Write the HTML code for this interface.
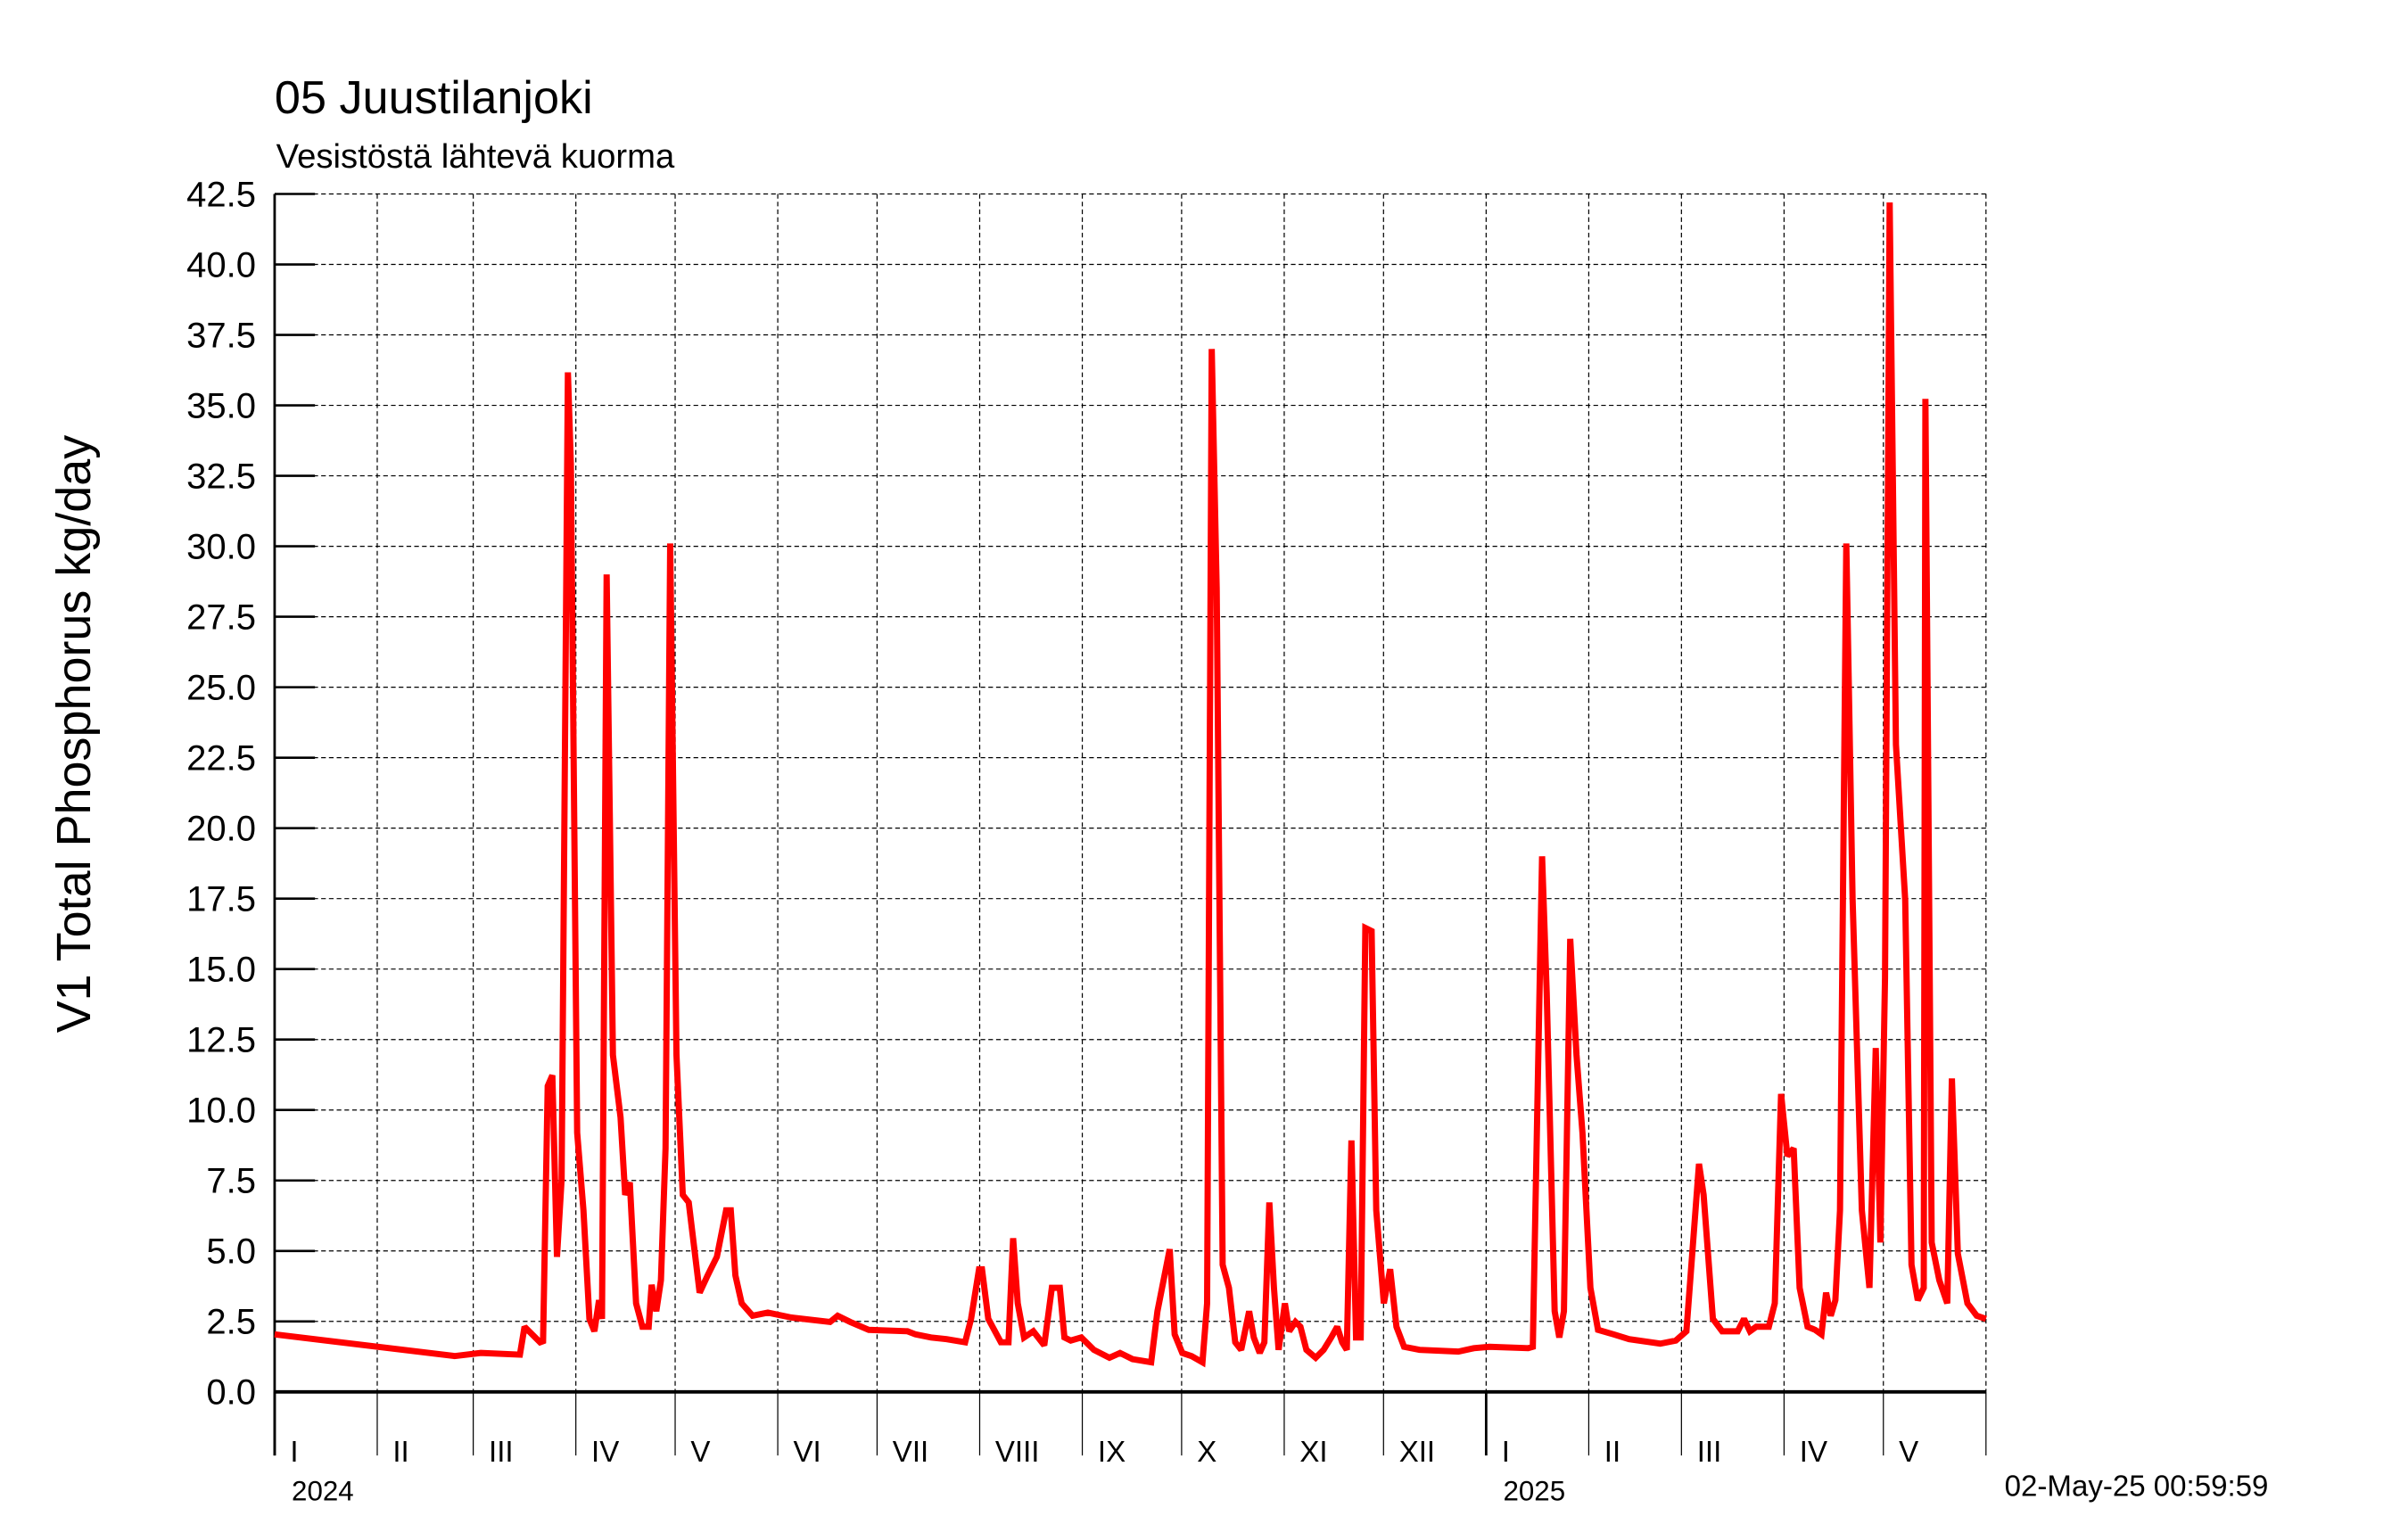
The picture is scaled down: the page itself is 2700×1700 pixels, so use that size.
<!DOCTYPE html>
<html><head><meta charset="utf-8"><style>
html,body{margin:0;padding:0;background:#fff;}
svg{display:block;font-family:"Liberation Sans",sans-serif;}
</style></head><body>
<svg id="chart" width="2700" height="1700" viewBox="0 0 1552 977" preserveAspectRatio="none" xmlns="http://www.w3.org/2000/svg">
<rect width="1552" height="977" fill="#fff"/>
<text x="177" y="73" font-size="30">05 Juustilanjoki</text>
<text x="178" y="108" font-size="22">Vesistöstä lähtevä kuorma</text>
<text transform="translate(58,473) rotate(-90)" text-anchor="middle" font-size="31">V1 Total Phosphorus kg/day</text>
<g id="grid"></g><g id="axes"></g><g id="series"></g>
<text x="1292" y="964" font-size="19">02-May-25 00:59:59</text>
</svg>
<script>
const days=[0,54.4,62.3,74.1,75.5,80.2,81.1,82.5,83.9,85.3,86.7,88.6,89.5,91.4,93.3,95.1,96.6,98,98.9,100.3,102.2,104.5,105.9,107.3,109.2,111.1,113,113.9,115.3,116.7,118.1,119.5,121.4,123.3,125.1,128.4,130.8,133.6,136.4,137.8,139.2,141.1,144.4,149,156,167.8,170.1,173.9,179.5,191.2,193.6,198.3,203,208.6,210.4,212.8,213.7,215.6,219.4,221.7,223.1,224.5,226.4,229.2,232.5,234.8,237.2,238.6,240.5,243.7,247.5,252.2,255.4,259.2,264.8,266.7,270.4,271.9,274.2,277,280.3,281.7,283.1,284.6,286.4,288.3,290.2,292,294.4,295.8,297.6,299,300.5,301.9,303.3,305.2,306.5,308.4,309.9,311.7,314.5,316.9,319.2,321,322.5,323.9,325.3,326.7,328.1,329.5,331.4,332.8,335.1,337,338.9,341.2,345.9,357.6,362.3,367,378.7,380.1,382.9,384.3,386.7,388.1,389.5,391.4,393.3,395.1,397.5,399.8,404.5,409.2,418.6,423.3,426.5,430.3,431.7,434.5,437.3,442,443.9,445.7,447.6,451.4,453.2,455.1,457,458.9,460.7,463.1,465.4,467.3,468.7,470.1,471.5,472.9,474.8,476.7,479.5,481.8,483.7,485.1,486.5,487.9,489.8,492.6,494.5,496.4,498.2,498.7,500.6,502.9,505.3,506.7,508.5,511.4,514.2,517];
const values=[2.04,1.27,1.38,1.32,2.31,1.76,1.8,10.85,11.23,4.79,7.54,36.17,32.9,9.19,6.44,2.59,2.15,3.25,2.59,29.0,11.95,9.74,6.99,7.43,3.14,2.31,2.31,3.8,2.86,3.96,8.64,30.1,11.95,6.99,6.72,3.52,4.13,4.79,6.44,6.44,4.13,3.14,2.7,2.81,2.64,2.48,2.7,2.48,2.2,2.15,2.04,1.93,1.87,1.76,2.59,4.35,4.35,2.59,1.76,1.76,5.45,3.14,1.93,2.15,1.65,3.69,3.69,1.93,1.82,1.93,1.49,1.21,1.38,1.16,1.05,2.86,5.06,2.04,1.38,1.27,1.05,3.14,37.0,28.5,4.51,3.69,1.76,1.49,2.86,1.93,1.38,1.76,6.72,3.69,1.49,3.14,2.15,2.48,2.31,1.49,1.21,1.49,1.93,2.31,1.76,1.49,8.92,1.93,1.93,16.46,16.35,6.44,3.14,4.35,2.31,1.6,1.49,1.43,1.55,1.6,1.55,1.6,19.0,14.15,2.86,1.93,2.86,16.07,11.95,9.19,3.69,2.2,2.04,1.87,1.71,1.82,2.15,8.09,6.99,2.59,2.15,2.15,2.59,2.15,2.31,2.31,3.14,10.57,8.37,8.64,3.69,2.31,2.2,2.04,3.52,2.7,3.25,6.44,30.1,17.5,6.44,3.69,12.2,5.3,14.7,42.2,22.96,17.45,4.51,3.25,3.69,35.23,5.3,3.96,3.14,11.12,4.9,3.14,2.7,2.59];
const yTicks=[0,2.5,5,7.5,10,12.5,15,17.5,20,22.5,25,27.5,30,32.5,35,37.5,40,42.5];
const monthStarts=[0,31,60,91,121,152,182,213,244,274,305,335,366,397,425,456,486,517];
const monthLabels=["I","II","III","IV","V","VI","VII","VIII","IX","X","XI","XII","I","II","III","IV","V"];
const yearStarts=[0,366];
const yearLabels=["2024","2025"];
const X0=177,X1=1280,DMAX=517,Y0=897,Y1=125,VMAX=42.5;
const xs=d=>X0+(X1-X0)*d/DMAX;
const ys=v=>Y0-(Y0-Y1)*v/VMAX;
const NS="http://www.w3.org/2000/svg";
function mk(tag,parent,attrs){const e=document.createElementNS(NS,tag);for(const k in attrs)e.setAttribute(k,attrs[k]);parent.appendChild(e);return e;}
const grid=document.getElementById('grid'),axes=document.getElementById('axes'),series=document.getElementById('series');
yTicks.forEach(t=>{
  const y=ys(t);
  const g=mk('line',grid,{x1:X0,x2:X1,y1:y,y2:y,stroke:'#000','stroke-width':0.7,'stroke-dasharray':'3,2'});
  
  
  const tk=mk('line',axes,{x1:X0,x2:X0+26,y1:y,y2:y,stroke:'#000','stroke-width':1.5});
  
  
  const tx=mk('text',axes,{x:165,y:y+8,'text-anchor':'end','font-size':23});
  tx.textContent=t.toFixed(1);
  
  
});
monthStarts.forEach((d,i)=>{
  const x=xs(d);
  if(i>0){
    const g=mk('line',grid,{x1:x,x2:x,y1:Y1,y2:Y0,stroke:'#000','stroke-width':0.7,'stroke-dasharray':'3,2'});
    
    
  }
  const isYear=yearStarts.includes(d);
  const tk=mk('line',axes,{x1:x,x2:x,y1:Y0,y2:938,stroke:'#000','stroke-width':isYear?1.6:0.7});
  
  
  if(i<monthLabels.length){
    const tx=mk('text',axes,{x:x+10,y:942,'font-size':19});
    tx.textContent=monthLabels[i];
    
    
  }
});
yearStarts.forEach((d,i)=>{
  const tx=mk('text',axes,{x:xs(d)+11,y:967,'font-size':18});
  tx.textContent=yearLabels[i];
  
  
});
const la=mk('line',axes,{x1:X0,x2:X0,y1:Y1,y2:938,stroke:'#000','stroke-width':1.6});


const ba=mk('line',axes,{x1:X0,x2:X1,y1:Y0,y2:Y0,stroke:'#000','stroke-width':2.2});


const pts=days.map((d,i)=>xs(d).toFixed(2)+','+ys(values[i]).toFixed(2)).join(' ');
const pl=mk('polyline',series,{points:pts,fill:'none',stroke:'#ff0000','stroke-width':4,'stroke-linejoin':'miter','stroke-miterlimit':2});


</script>
</body></html>
